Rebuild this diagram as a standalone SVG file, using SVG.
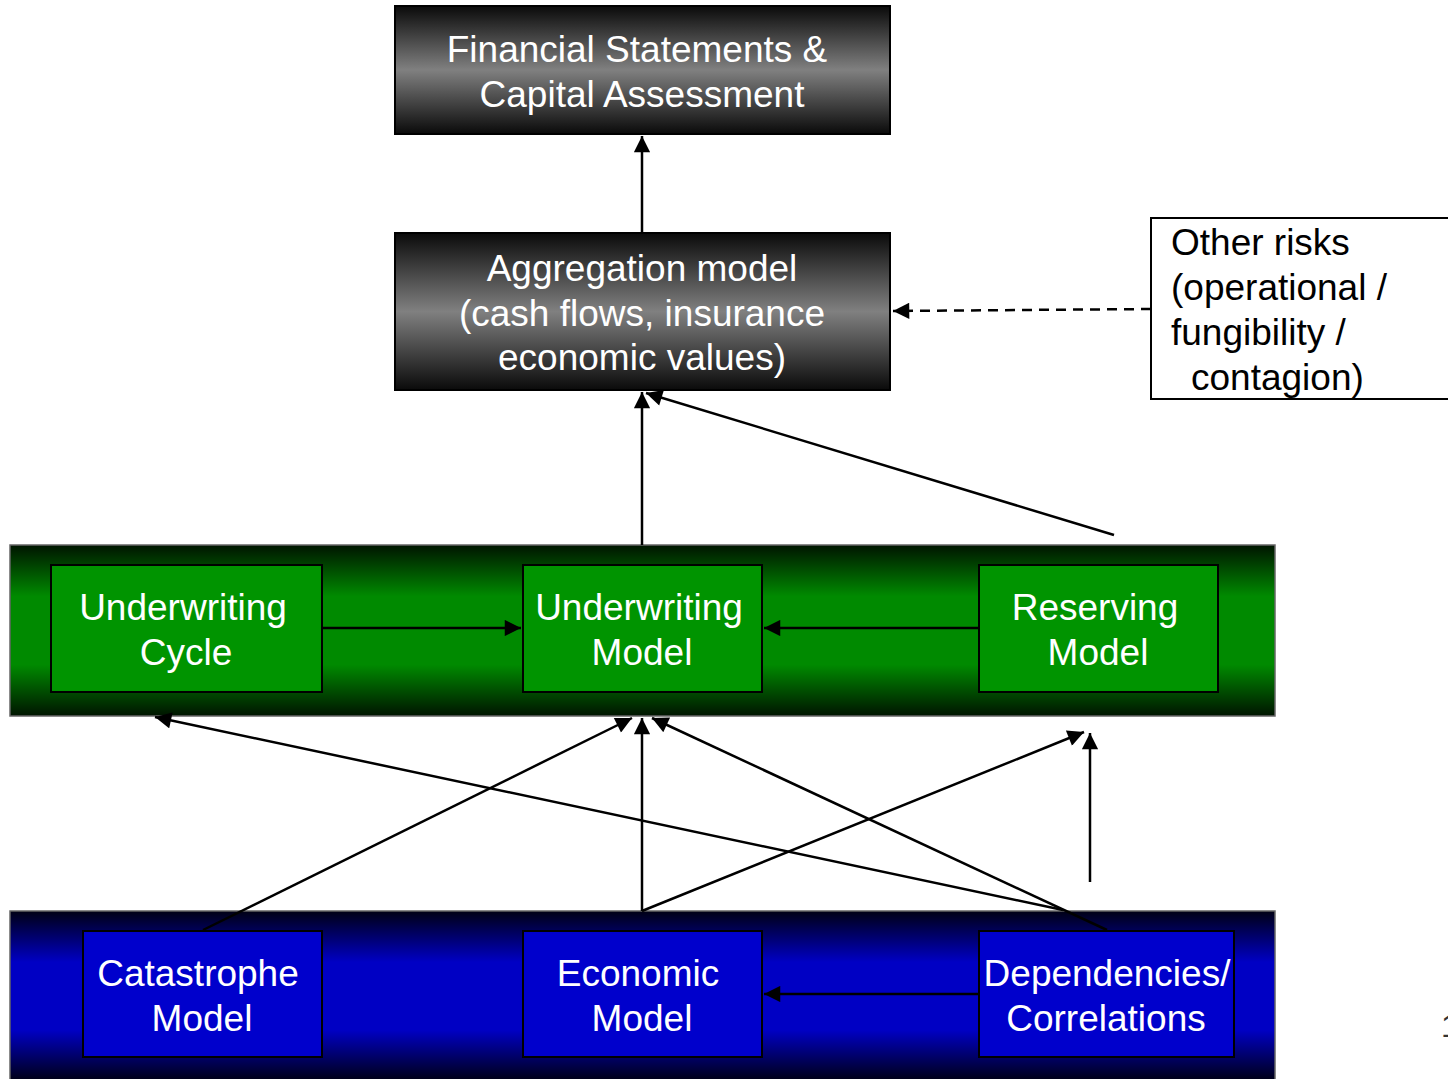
<svg xmlns="http://www.w3.org/2000/svg" width="1448" height="1079" viewBox="0 0 1448 1079">
<defs>
<linearGradient id="gGray" x1="0" y1="0" x2="0" y2="1">
<stop offset="0" stop-color="#0a0a0a"/><stop offset="0.5" stop-color="#808080"/><stop offset="1" stop-color="#0a0a0a"/>
</linearGradient>
<linearGradient id="gGreen" x1="0" y1="0" x2="0" y2="1">
<stop offset="0" stop-color="#001400"/><stop offset="0.3" stop-color="#008a00"/><stop offset="0.7" stop-color="#008a00"/><stop offset="1" stop-color="#001400"/>
</linearGradient>
<linearGradient id="gBlue" x1="0" y1="0" x2="0" y2="1">
<stop offset="0" stop-color="#000014"/><stop offset="0.3" stop-color="#0000c4"/><stop offset="0.7" stop-color="#0000c4"/><stop offset="1" stop-color="#000014"/>
</linearGradient>
<marker id="ah" viewBox="0 0 10 10" refX="10" refY="5" markerWidth="7" markerHeight="6.5" markerUnits="strokeWidth" orient="auto">
<path d="M0,0 L10,5 L0,10 z" fill="#000"/>
</marker>
<style>
.dark{fill:url(#gGray);stroke:#000;stroke-width:2}
.band{stroke:#666;stroke-width:1.5}
.gbox{fill:#009400;stroke:#000;stroke-width:2}
.bbox{fill:#0000cc;stroke:#000;stroke-width:2}
.t{font-family:"Liberation Sans",Arial,sans-serif;font-size:37px;fill:#fff;text-anchor:middle}
.tb{font-family:"Liberation Sans",Arial,sans-serif;font-size:37px;fill:#000}
.c{stroke:#000;stroke-width:2.5;fill:none}
</style>
</defs>
<rect width="1448" height="1079" fill="#fff"/>
<g id="band-green"><rect class="band" x="10" y="545" width="1265" height="171" fill="url(#gGreen)"/></g>
<g id="band-blue"><rect class="band" x="10" y="911" width="1265" height="170" fill="url(#gBlue)"/></g>
<g id="financial"><rect class="dark" x="395" y="6" width="495" height="128"/>
<text class="t" x="637" y="62">Financial Statements &amp;</text>
<text class="t" x="642" y="107">Capital Assessment</text></g>
<g id="aggregation"><rect class="dark" x="395" y="233" width="495" height="157"/>
<text class="t" x="642" y="281">Aggregation model</text>
<text class="t" x="642" y="326">(cash flows, insurance</text>
<text class="t" x="642" y="370">economic values)</text></g>
<g id="other"><rect x="1151" y="218" width="310" height="181" fill="#fff" stroke="#000" stroke-width="2"/>
<text class="tb" x="1171" y="255">Other risks</text>
<text class="tb" x="1171" y="300">(operational /</text>
<text class="tb" x="1171" y="345">fungibility /</text>
<text class="tb" x="1191" y="390">contagion)</text></g>
<g id="uwcycle"><rect class="gbox" x="51" y="565" width="271" height="127"/>
<text class="t" x="183" y="620">Underwriting</text><text class="t" x="186" y="665">Cycle</text></g>
<g id="uwmodel"><rect class="gbox" x="523" y="565" width="239" height="127"/>
<text class="t" x="639" y="620">Underwriting</text><text class="t" x="642" y="665">Model</text></g>
<g id="reserving"><rect class="gbox" x="979" y="565" width="239" height="127"/>
<text class="t" x="1095" y="620">Reserving</text><text class="t" x="1098" y="665">Model</text></g>
<g id="catastrophe"><rect class="bbox" x="83" y="931" width="239" height="126"/>
<text class="t" x="198" y="986">Catastrophe</text><text class="t" x="202" y="1031">Model</text></g>
<g id="economic"><rect class="bbox" x="523" y="931" width="239" height="126"/>
<text class="t" x="638" y="986">Economic</text><text class="t" x="642" y="1031">Model</text></g>
<g id="dependencies"><rect class="bbox" x="979" y="931" width="255" height="126"/>
<text class="t" x="1107" y="986">Dependencies/</text><text class="t" x="1106" y="1031">Correlations</text></g>
<g id="connectors">
<line class="c" x1="642" y1="232" x2="642" y2="136" marker-end="url(#ah)"/>
<line class="c" x1="1151" y1="309" x2="893" y2="311" stroke-dasharray="10,7" marker-end="url(#ah)"/>
<line class="c" x1="642" y1="545" x2="642" y2="392" marker-end="url(#ah)"/>
<line class="c" x1="1114" y1="535" x2="646" y2="393" marker-end="url(#ah)"/>
<line class="c" x1="322" y1="628" x2="521" y2="628" marker-end="url(#ah)"/>
<line class="c" x1="979" y1="628" x2="764" y2="628" marker-end="url(#ah)"/>
<line class="c" x1="203" y1="930" x2="632" y2="718" marker-end="url(#ah)"/>
<line class="c" x1="642" y1="911" x2="642" y2="718" marker-end="url(#ah)"/>
<line class="c" x1="1107" y1="930" x2="652" y2="718" marker-end="url(#ah)"/>
<line class="c" x1="1063" y1="910" x2="155" y2="717" marker-end="url(#ah)"/>
<line class="c" x1="642" y1="911" x2="1084" y2="732" marker-end="url(#ah)"/>
<line class="c" x1="1090" y1="882" x2="1090" y2="733" marker-end="url(#ah)"/>
<line class="c" x1="979" y1="994" x2="764" y2="994" marker-end="url(#ah)"/>
</g>
<text x="1441" y="1037" font-family="Liberation Sans,Arial,sans-serif" font-size="32" fill="#333">1</text>
</svg>
